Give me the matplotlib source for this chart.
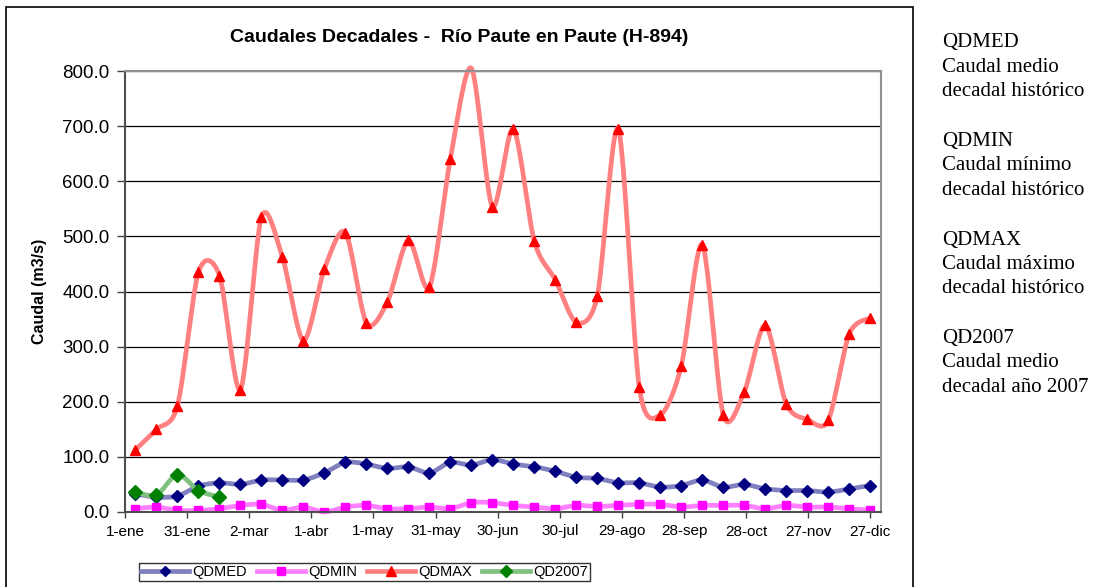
import numpy as np
import matplotlib
matplotlib.use('Agg')
import matplotlib.pyplot as plt
from matplotlib.patches import Rectangle
from matplotlib.lines import Line2D

# datos decadales (36 decadas)
qdmed = [33, 27, 29, 47, 53, 50, 58, 58, 58, 71, 90, 87, 79, 82, 71, 90, 85, 95,
         87, 82, 74, 63, 61, 53, 53, 45, 48, 58, 45, 50, 42, 39, 39, 36, 42, 48]
qdmin = [6, 9, 3, 3, 6, 12, 14, 3, 9, 0, 9, 12, 6, 6, 9, 6, 17, 17,
         12, 9, 6, 12, 10, 12, 14, 14, 9, 12, 12, 12, 6, 12, 9, 9, 6, 3]
qdmax = [113, 150, 193, 435, 429, 222, 535, 462, 311, 441, 507, 343, 381, 493, 408, 641, 805, 554,
         695, 491, 421, 344, 392, 695, 226, 176, 265, 485, 176, 218, 339, 196, 168, 166, 323, 352]
qd2007 = [36, 31, 68, 39, 27]

tick_days = np.arange(0, 361, 30)
tick_labels = ['1-ene', '31-ene', '2-mar', '1-abr', '1-may', '31-may', '30-jun',
               '30-jul', '29-ago', '28-sep', '28-oct', '27-nov', '27-dic']

notas = [('QDMED', 'Caudal medio', 'decadal histórico'),
         ('QDMIN', 'Caudal mínimo', 'decadal histórico'),
         ('QDMAX', 'Caudal máximo', 'decadal histórico'),
         ('QD2007', 'Caudal medio', 'decadal año 2007')]


def smooth(x, y, n=24, k=7.0):
    # curva suavizada tipo Excel (Bezier con puntos vecinos)
    pts = np.column_stack([x, y]).astype(float)
    P = np.vstack([pts[0], pts, pts[-1]])
    out = []
    t = np.linspace(0, 1, n, endpoint=False)[:, None]
    for i in range(1, len(P) - 2):
        p0, p1, p2, p3 = P[i - 1], P[i], P[i + 1], P[i + 2]
        c1 = p1 + (p2 - p0) / k
        c2 = p2 - (p3 - p1) / k
        seg = (1 - t)**3 * p1 + 3 * (1 - t)**2 * t * c1 + 3 * (1 - t) * t**2 * c2 + t**3 * p2
        out.append(seg)
    out.append(pts[-1:])
    s = np.vstack(out)
    return s[:, 0], s[:, 1]


plt.rcParams['font.family'] = ['Liberation Sans', 'DejaVu Sans']

fig = plt.figure(figsize=(11.01, 5.87), dpi=100)
ax = fig.add_axes([125 / 1101, 1 - 512 / 587, (880.7 - 125) / 1101, (512 - 71) / 587])

# marco exterior
fig.patches.append(Rectangle((6 / 1101, -0.05), (913 - 6) / 1101, 1 - 7 / 587 + 0.05,
                             transform=fig.transFigure, fill=False, ec='black', lw=1.2))

x_all = (np.arange(36) + 0.5) * 365 / 36

series = [
    ('QDMED', qdmed, '#8080c0', '#000080', 'D', 6),
    ('QDMIN', qdmin, '#ff80ff', '#ff00ff', 's', 6),
    ('QDMAX', qdmax, '#ff8080', '#ff0000', '^', 7.5),
    ('QD2007', qd2007, '#80c080', '#008000', 'D', 7),
]

handles = []
for name, vals, lc, mc, mk, ms in series:
    vals = np.array(vals, dtype=float)
    xs = x_all[:len(vals)]
    sx, sy = smooth(xs, vals)
    ax.plot(sx, sy, color=lc, lw=3.4, clip_on=False, solid_capstyle='round')
    vis = vals <= 800
    ax.plot(xs[vis], vals[vis], ls='none', marker=mk, ms=ms, color=mc, mec=mc)
    handles.append(Line2D([], [], color=lc, lw=3.4, marker=mk, ms=ms - 0.5, mfc=mc, mec=mc))

ax.set_xlim(0, 365)
ax.set_ylim(0, 800)
ax.set_yticks(np.arange(0, 801, 100))
ax.set_yticklabels(['%.1f' % v for v in np.arange(0, 801, 100)], fontsize=13.5)
ax.set_xticks(tick_days)
ax.set_xticklabels(tick_labels, fontsize=11)
ax.tick_params(axis='y', direction='out', length=6, width=1, color='#404040', pad=5)
ax.tick_params(axis='x', direction='out', length=4, width=1, color='#404040', pad=5)
ax.yaxis.grid(True, color='black', lw=0.9)
ax.set_axisbelow(True)
for s in ['left', 'bottom']:
    ax.spines[s].set_color('#505050')
    ax.spines[s].set_linewidth(1.5)
for s in ['top', 'right']:
    ax.spines[s].set_color('#909090')
    ax.spines[s].set_linewidth(1.5)

ax.set_ylabel('Caudal (m3/s)', fontsize=11.5, fontweight='bold', labelpad=11)

fig.text(459.5 / 1101, 1 - 37 / 587, 'Caudales Decadales -  Río Paute en Paute (H-894)',
         ha='center', va='center', fontsize=14, fontweight='bold')

leg = fig.legend(handles, [s[0] for s in series], loc='center', ncol=4,
                 bbox_to_anchor=(364.5 / 1101, 1 - 572 / 587), fontsize=10.5,
                 handlelength=3.3, columnspacing=0.7, handletextpad=0.2,
                 frameon=True, fancybox=False, borderpad=0.12, borderaxespad=0)
leg.get_frame().set_edgecolor('black')
leg.get_frame().set_linewidth(1)

# notas a la derecha
y0 = 43
for i, bloque in enumerate(notas):
    for j, linea in enumerate(bloque):
        yy = y0 + i * 98.5 + j * 24.3
        fig.text(942 / 1101, 1 - yy / 587, linea, ha='left', va='center',
                 fontsize=15, family='Liberation Serif')

fig.savefig('out.png', dpi=100)
